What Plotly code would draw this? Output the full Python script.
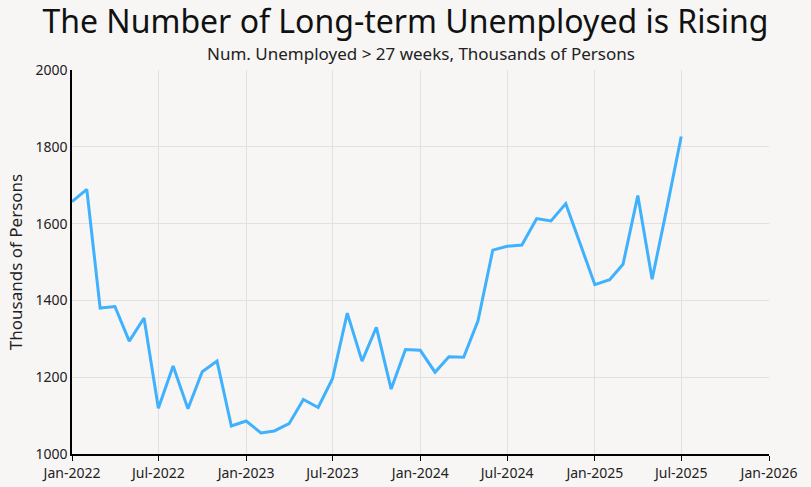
import plotly.graph_objects as go
import pandas as pd

months = pd.date_range("2022-01-01", "2025-07-01", freq="MS").strftime("%Y-%m-%d").tolist()
unemployed_27wk = [
    1657, 1689, 1380, 1384, 1294, 1354, 1119, 1229, 1118, 1214, 1242, 1073,
    1086, 1055, 1060, 1079, 1142, 1121, 1196, 1367, 1242, 1330, 1169, 1272,
    1270, 1213, 1253, 1252, 1347, 1531, 1541, 1544, 1613, 1607, 1652, 1547,
    1441, 1454, 1494, 1673, 1455, 1641, 1827,
]

title_text = "The Number of Long-term Unemployed is Rising"
subtitle_text = "Num. Unemployed > 27 weeks, Thousands of Persons"
y_title = "Thousands of Persons"

FONT = "Noto Sans"
BG = "#f7f6f5"

fig = go.Figure()
fig.add_trace(go.Scatter(
    x=months, y=unemployed_27wk, mode="lines",
    line=dict(color="#3fb1fd", width=3),
    showlegend=False,
))

fig.update_layout(
    width=811, height=487,
    paper_bgcolor=BG, plot_bgcolor=BG,
    margin=dict(l=72, r=42, t=70, b=33, autoexpand=False),
    font=dict(family=FONT, color="#222222"),
    title=dict(text=title_text, x=0.5, xanchor="center", y=0.955, yanchor="middle",
               yref="container",
               font=dict(size=32, family=FONT, color="#111111")),
    annotations=[dict(text=subtitle_text, xref="paper", yref="paper",
                      x=0.5, y=1.0, yshift=3, xanchor="center", yanchor="bottom",
                      showarrow=False, font=dict(size=17, family=FONT, color="#222222"))],
)
fig.update_xaxes(
    range=["2022-01-01", "2026-01-01"], dtick="M6", tick0="2022-01-01",
    tickformat="%b-%Y", showline=True, linecolor="black", linewidth=1.5,
    ticks="outside", ticklen=5, tickcolor="black", automargin=False,
    showgrid=True, gridcolor="#e3e1df", gridwidth=1.3,
    tickfont=dict(size=14, family=FONT, color="#222222"),
)
fig.update_yaxes(
    range=[1000, 2000], dtick=200, showline=True, linecolor="black", linewidth=1.5,
    showgrid=True, gridcolor="#e3e1df", gridwidth=1.3, zeroline=False, automargin=False,
    tickfont=dict(size=14, family=FONT, color="#222222"),
    title=dict(text=y_title, font=dict(size=17, family=FONT, color="#222222"), standoff=8),
)

fig.write_html("out.html", config={"displayModeBar": False},
               post_script="document.body.style.margin='0';document.body.style.background='" + BG + "';")
